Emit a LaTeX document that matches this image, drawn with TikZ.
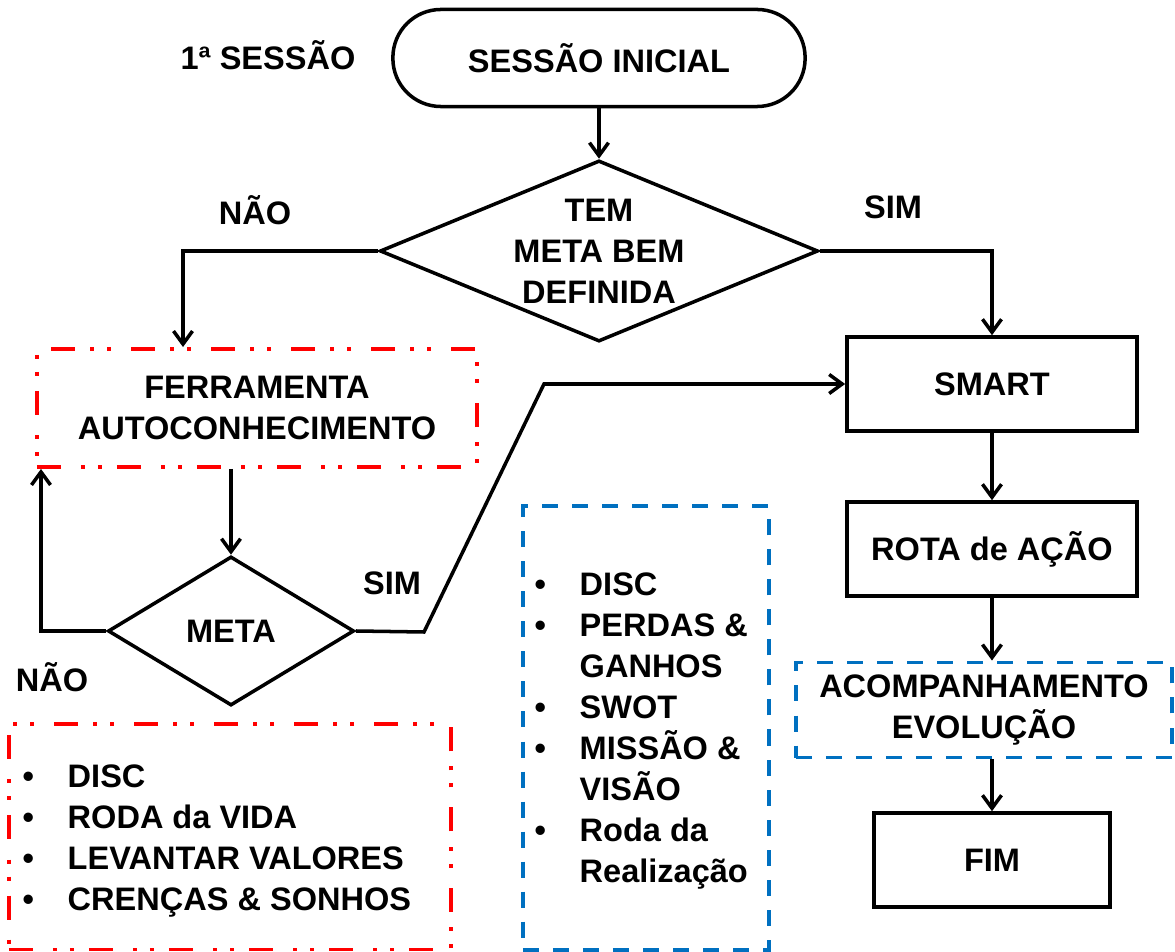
\documentclass[tikz,border=0pt]{standalone}
\usepackage{fontspec}
\setmainfont{Liberation Sans}
\usetikzlibrary{shapes.geometric,arrows.meta}
\definecolor{azul}{RGB}{0,112,192}
\tikzset{
  txt/.style={font=\bfseries\fontsize{9.25pt}{11.65pt}\selectfont, align=center, inner sep=0pt},
  caixa/.style={txt, draw, line width=1pt, minimum height=0.94cm},
  losango/.style={txt, draw, diamond, line width=1pt},
  vermelho/.style={draw=red, line width=1.1pt, dash pattern=on 2.4mm off 2mm on 0.4mm off 1.3mm on 0.4mm off 1.5mm},
  azuld/.style={draw=azul, line width=1.1pt, dash pattern=on 1.6mm off 1.4mm},
  seta/.style={line width=1pt, -{Straight Barb[length=1.3mm,width=1.9mm]}},
  lista/.style={txt, align=left, anchor=west}
}
\newcommand{\topico}{\makebox[0.45cm][l]{\textbullet}}
\newcommand{\recuo}{\hspace*{0.45cm}}
\begin{document}
\begin{tikzpicture}[x=0.01cm, y=-0.01cm]
\useasboundingbox (0,0) rectangle (1175,952);
% inicio
\node[txt] (sessao) at (268,55) {1ª SESSÃO};
\node[caixa, rounded corners=0.48cm, minimum width=4.12cm, minimum height=0.97cm] (ini) at (599,58) {SESSÃO INICIAL};
\node[losango, minimum width=4.38cm, minimum height=1.81cm] (tem) at (599,251) {};
\node[txt] (temtxt) at (tem) {TEM\\META BEM\\DEFINIDA};
\node[txt] (nao1) at (255,210) {NÃO};
\node[txt] (sim1) at (893,207) {SIM};
% lado esquerdo
\node[caixa, vermelho, minimum width=4.4cm, minimum height=1.18cm] (ferr) at (257,408) {FERRAMENTA\\AUTOCONHECIMENTO};
\node[losango, minimum width=2.46cm, minimum height=1.49cm] (meta) at (231,631) {META};
\node[txt] (nao2) at (52,677) {NÃO};
\node[txt] (sim2) at (392,583) {SIM};
\node[vermelho, minimum width=4.42cm, minimum height=2.25cm] (quadro1) at (230,837) {};
\node[lista] (lista1) at (22,841) {\topico DISC\\ \topico RODA da VIDA\\ \topico LEVANTAR VALORES\\ \topico CRENÇAS \& SONHOS};
\node[azuld, minimum width=2.46cm, minimum height=4.43cm] (quadro2) at (646,728) {};
\node[lista] (lista2) at (534,731) {\topico DISC\\ \topico PERDAS \&\\ \recuo GANHOS\\ \topico SWOT\\ \topico MISSÃO \&\\ \recuo VISÃO\\ \topico Roda da\\ \recuo Realização};
% lado direito
\node[caixa, minimum width=2.9cm] (smart) at (992,384) {SMART};
\node[caixa, minimum width=2.9cm] (rota) at (992,549) {ROTA de AÇÃO};
\node[caixa, azuld, minimum width=3.76cm, minimum height=0.95cm] (acomp) at (984,710) {ACOMPANHAMENTO\\EVOLUÇÃO};
\node[caixa, minimum width=2.36cm] (fim) at (992,860) {FIM};
% setas
\coordinate (c1) at (183,251);
\coordinate (c2) at (41,631);
\coordinate (c3) at (424,632);
\coordinate (c4) at (544,384);
\draw[seta] (ini.south) -- (tem.north);
\draw[seta] (tem.west) -- (c1) -- (c1 |- ferr.north);
\draw[seta] (tem.east) -| (smart.north);
\draw[seta] (ferr.south -| meta.north) -- (meta.north);
\draw[seta] (meta.west) -- (c2) -- (c2 |- ferr.south);
\draw[seta] (meta.east) -- (c3) -- (c4) -- (smart.west);
\draw[seta] (smart.south) -- (rota.north);
\draw[seta] (rota.south) -- (rota.south |- acomp.north);
\draw[seta] (rota.south |- acomp.south) -- (fim.north);
\end{tikzpicture}
\end{document}
